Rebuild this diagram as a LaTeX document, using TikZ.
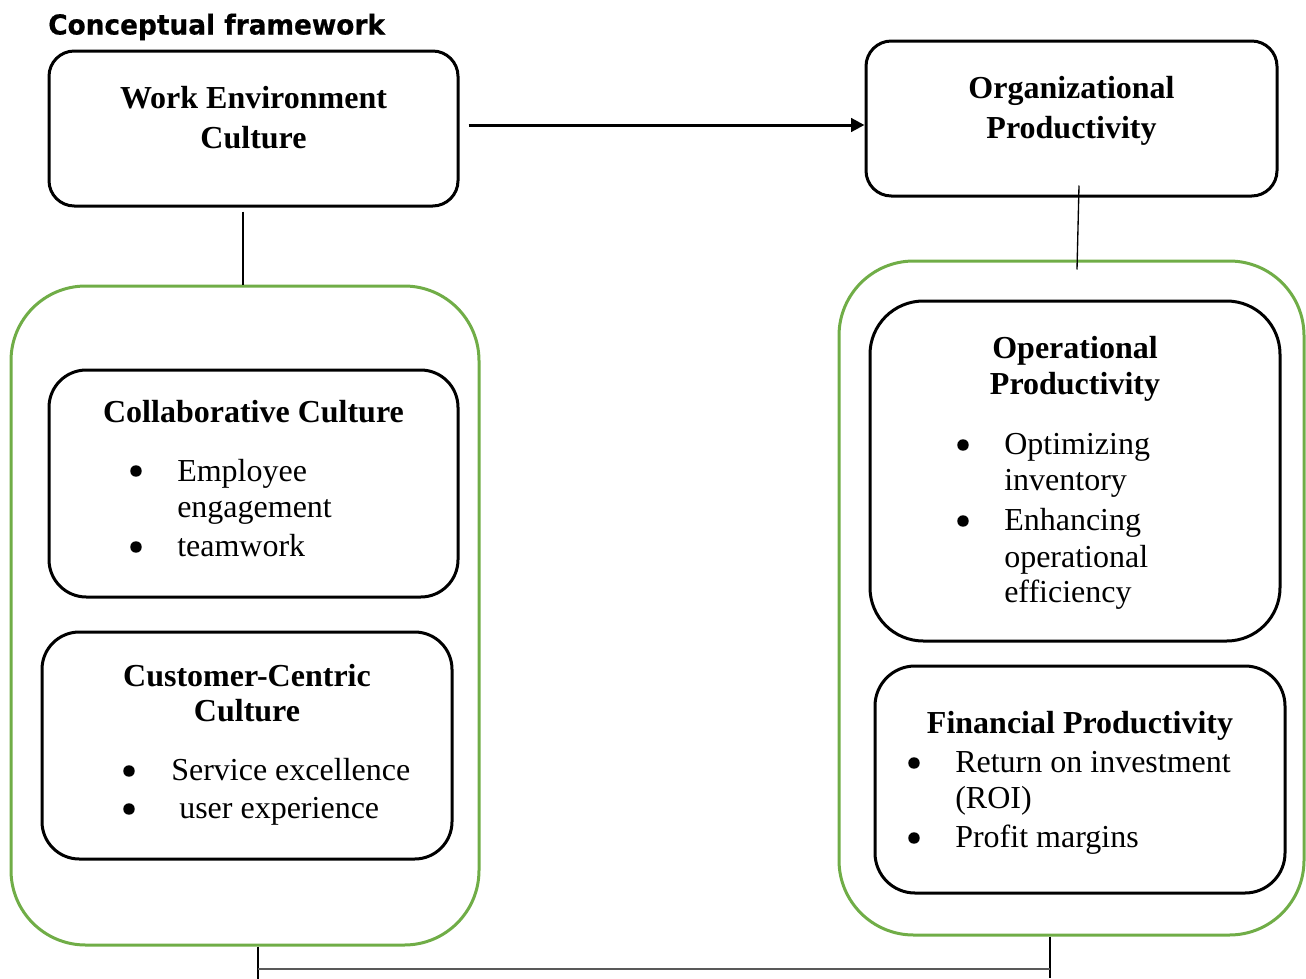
\documentclass[tikz,border=0pt]{standalone}
\usepackage{fontspec}
\setmainfont{Liberation Serif}
\newfontfamily\titlefont[FakeStretch=0.96, FakeBold=0.6]{DejaVu Sans}
\usetikzlibrary{arrows.meta}
\definecolor{groupgreen}{HTML}{70AD47}
\definecolor{linkgray}{HTML}{595959}
\begin{document}
\begin{tikzpicture}[x=0.75pt, y=-0.75pt,
  box/.style={draw=black, line width=2.25pt, rectangle, inner sep=0pt},
  group/.style={draw=groupgreen, line width=2.25pt, rectangle, inner sep=0pt, rounded corners=56pt},
  head/.style={font=\bfseries\fontsize{24pt}{30pt}\selectfont, anchor=base, inner sep=0pt},
  body/.style={font=\fontsize{24pt}{27pt}\selectfont, anchor=base west, inner sep=0pt},
  bul/.style={circle, fill=black, inner sep=0pt, minimum size=8.6pt},
  link/.style={line width=1pt, black},
  flow/.style={line width=2.25pt, -{Triangle[length=10pt, width=10pt]}}]
\useasboundingbox (0,0) rectangle (1306,978);

% title
\node[font=\titlefont\bfseries\fontsize{20.6pt}{24pt}\selectfont, anchor=base west, inner sep=0pt] (title) at (48,34.5) {Conceptual framework};

% top-level boxes
\node[box, rounded corners=19pt, minimum width=409*0.75pt, minimum height=155*0.75pt] (wec) at (253.5,128.5) {};
\node[box, rounded corners=19pt, minimum width=411*0.75pt, minimum height=155*0.75pt] (op) at (1071.5,118.5) {};
\node[head] (wec1) at (253.5,108) {Work Environment};
\node[head] (wec2) at (253.5,148) {Culture};
\node[head] (op1) at (1071.5,98) {Organizational};
\node[head] (op2) at (1071.5,138) {Productivity};

% green groups
\node[group, minimum width=468*0.75pt, minimum height=659*0.75pt] (leftgrp) at (245,615.5) {};
\node[group, minimum width=465*0.75pt, minimum height=674*0.75pt] (rightgrp) at (1071.5,598) {};

% left group: culture dimensions
\node[box, rounded corners=28pt, minimum width=409*0.75pt, minimum height=227*0.75pt] (collab) at (253.5,483.5) {};
\node[head] (collabT) at (253.5,422) {Collaborative Culture};
\node[bul] (cb1) at (136,471) {};
\node[body] (ct1) at (177,481) {Employee};
\node[body] (ct2) at (177,517) {engagement};
\node[bul] (cb2) at (136,547) {};
\node[body] (ct3) at (177,556) {teamwork};

\node[box, rounded corners=28pt, minimum width=410*0.75pt, minimum height=227*0.75pt] (cust) at (247,745.5) {};
\node[head] (custT1) at (247,686) {Customer-Centric};
\node[head] (custT2) at (247,721) {Culture};
\node[bul] (ub1) at (129,771) {};
\node[body] (ut1) at (171,780) {Service excellence};
\node[bul] (ub2) at (129,809) {};
\node[body] (ut2) at (179,818) {user experience};

% right group: productivity dimensions
\node[box, rounded corners=40pt, minimum width=410*0.75pt, minimum height=340*0.75pt] (opprod) at (1075,471) {};
\node[head] (opT1) at (1075,358) {Operational};
\node[head] (opT2) at (1075,394) {Productivity};
\node[bul] (ob1) at (963,445) {};
\node[body] (ot1) at (1004,454) {Optimizing};
\node[body] (ot2) at (1004,490) {inventory};
\node[bul] (ob2) at (963,521) {};
\node[body] (ot3) at (1004,530) {Enhancing};
\node[body] (ot4) at (1004,567) {operational};
\node[body] (ot5) at (1004,602) {efficiency};

\node[box, rounded corners=30pt, minimum width=410*0.75pt, minimum height=227*0.75pt] (finprod) at (1080,779.5) {};
\node[head] (finT) at (1080,733) {Financial Productivity};
\node[bul] (fb1) at (914,763) {};
\node[body] (ft1) at (955,772) {Return on investment};
\node[body] (ft2) at (955,808) {(ROI)};
\node[bul] (fb2) at (914,838) {};
\node[body] (ft3) at (955,847) {Profit margins};

% connectors
\draw[flow] ([shift={(9,-3.5)}]wec.east) -- ([shift={(0,6.5)}]op.west);

\coordinate (wecdrop) at ([shift={(-10.5,4)}]wec.south);
\draw[link] (wecdrop) -- (wecdrop |- leftgrp.north);

\coordinate (optop) at ([shift={(7.5,-12)}]op.south);
\coordinate (opbot) at ([shift={(5.5,10)}]rightgrp.north);
\draw[link] (optop) -- (opbot);

\coordinate (lb) at ([shift={(13,0)}]leftgrp.south);
\coordinate (lbend) at ([shift={(0,33)}]lb);
\coordinate (lbmid) at ([shift={(0,22)}]lb);
\coordinate (rb) at ([shift={(-21.5,0)}]rightgrp.south);
\coordinate (rbend) at ([shift={(0,41)}]rb);
\coordinate (rbmid) at ([shift={(0,32)}]rb);
\draw[link] (lb) -- (lbend);
\draw[line width=1.6pt] (rb) -- (rbend);
\draw[line width=1.5pt, linkgray] (lbmid) -- (rbmid);
\end{tikzpicture}
\end{document}
